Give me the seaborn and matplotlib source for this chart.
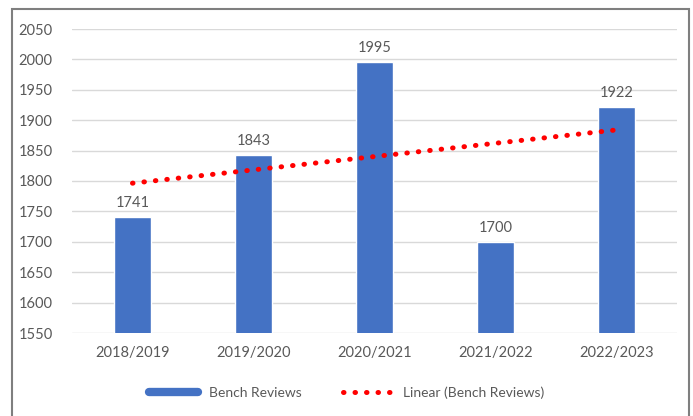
import numpy as np
import matplotlib
matplotlib.use("Agg")
import matplotlib.pyplot as plt
import seaborn as sns
from matplotlib.patches import Rectangle
from matplotlib.lines import Line2D

years = ["2018/2019", "2019/2020", "2020/2021", "2021/2022", "2022/2023"]
reviews = [1741, 1843, 1995, 1700, 1922]
y_ticks = list(range(1550, 2051, 50))

sns.set_style("white")
plt.rcParams["font.family"] = ["Lato", "DejaVu Sans"]

BLUE = "#4472C4"
GREY = "#595959"

fig = plt.figure(figsize=(6.93, 4.16), dpi=100)
ax = fig.add_axes([72 / 693, 1 - 333 / 416, (677 - 72) / 693, (333 - 29) / 416])

sns.barplot(x=years, y=reviews, color=BLUE, width=0.31, ax=ax,
            saturation=1, zorder=2)

# linear trendline, like excel's "Linear" option
xs = np.arange(len(years))
slope, icpt = np.polyfit(xs, reviews, 1)
ax.plot(xs, slope * xs + icpt, color="red", linestyle=(0, (0.1, 2.2)),
        linewidth=3.6, dash_capstyle="round", zorder=3)

for i, v in enumerate(reviews):
    ax.text(i, v + 12, str(v), ha="center", va="bottom",
            fontsize=10.5, color=GREY)

ax.set_ylim(1550, 2050)
ax.set_xlim(-0.5, len(years) - 0.5)
ax.set_yticks(y_ticks)
ax.yaxis.grid(True, color="#d9d9d9", linewidth=1, zorder=0)
ax.set_axisbelow(True)
for s in ax.spines.values():
    s.set_visible(False)
ax.tick_params(axis="y", length=0, labelsize=10.5, labelcolor=GREY, pad=14)
ax.tick_params(axis="x", length=0, labelsize=10.5, labelcolor=GREY, pad=9)

handles = [Line2D([0], [0], color=BLUE, linewidth=6),
           Line2D([0], [0], color="red", linestyle=(0, (0.1, 2.2)),
                  linewidth=3.6, dash_capstyle="round")]
fig.legend(handles, ["Bench Reviews", "Linear (Bench Reviews)"],
           loc="center", bbox_to_anchor=(0.5, 1 - 393 / 416), ncol=2,
           frameon=False, fontsize=10, labelcolor=GREY,
           handlelength=3.5, columnspacing=3)

fig.patches.append(Rectangle((12 / 693, -0.01), (689 - 12) / 693, 1 - 9 / 416 + 0.01,
                             transform=fig.transFigure, fill=False,
                             edgecolor="#7f7f7f", linewidth=1.5))

fig.savefig("out.png", dpi=100)
